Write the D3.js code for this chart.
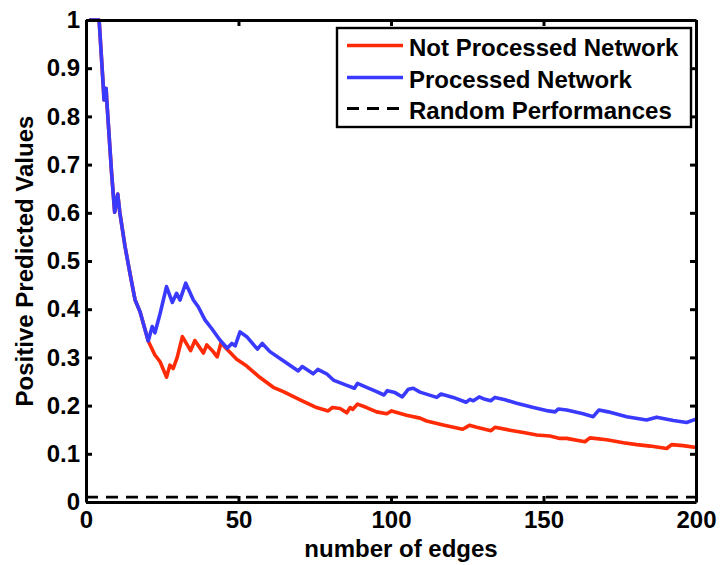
<!DOCTYPE html>
<html>
<head>
<meta charset="utf-8">
<script src="https://cdn.jsdelivr.net/npm/d3@7"></script>
<style>
  html, body { margin: 0; padding: 0; background: #ffffff; }
  svg { display: block; }
  text { font-family: "Liberation Sans", Arial, Helvetica, sans-serif; font-weight: bold; fill: #000; }
</style>
</head>
<body>
<svg id="chart" width="722" height="565"></svg>
<script>
// ---- Data ----
const seriesNames = ["Not Processed Network", "Processed Network", "Random Performances"];

// shared start of both curves (identical until ~20 edges)
const sharedEdges  = [1, 4.3, 5.7, 5.9, 6.6, 6.8, 8.4, 9.4, 10.4, 11.1, 12.8, 14.4, 16.1, 17.7, 20.4];
const sharedValues = [1.0, 1.0, 0.858, 0.834, 0.858, 0.834, 0.682, 0.601, 0.639, 0.600, 0.530, 0.475, 0.419, 0.395, 0.334];

const processedEdges = [21.7, 22.6, 24.3, 26.4, 28.3, 29.7, 30.8, 32.7, 35.2, 36.8, 39.0, 41.2, 43.9, 46.3, 47.8, 48.9,
  50.5, 52.7, 56.2, 57.8, 60.3, 64.2, 69.6, 70.9, 74.5, 76.0, 78.9, 81.1, 85.5, 88.0, 89.0, 92.0, 95.3, 97.7, 98.8,
  101.3, 103.7, 105.7, 107.3, 109.5, 115.0, 116.4, 120.4, 124.6, 125.9, 127.0, 128.9, 130.8, 132.7, 134.1, 137.4,
  141.2, 146.7, 151.6, 153.8, 154.9, 157.6, 163.0, 166.3, 168.2, 171.2, 177.3, 183.8, 187.1, 192.6, 196.9, 200];
const processedValues = [0.364, 0.351, 0.391, 0.447, 0.414, 0.433, 0.419, 0.454, 0.419, 0.405, 0.378, 0.360, 0.336, 0.319, 0.329, 0.324,
  0.353, 0.343, 0.317, 0.329, 0.312, 0.295, 0.272, 0.281, 0.266, 0.275, 0.266, 0.253, 0.242, 0.236, 0.246, 0.238, 0.229, 0.222, 0.231,
  0.227, 0.218, 0.234, 0.236, 0.228, 0.217, 0.224, 0.217, 0.207, 0.213, 0.210, 0.218, 0.213, 0.210, 0.217, 0.212,
  0.205, 0.196, 0.189, 0.187, 0.193, 0.191, 0.183, 0.177, 0.191, 0.187, 0.177, 0.170, 0.176, 0.169, 0.165, 0.172];

const notProcessedEdges = [22.6, 24.3, 26.4, 27.5, 28.6, 29.9, 31.6, 34.3, 35.7, 38.5, 39.6, 41.7, 43.0, 44.3, 45.6, 49.4,
  52.7, 56.5, 61.4, 64.7, 70.2, 75.6, 79.4, 80.8, 83.3, 85.5, 86.6, 87.4, 89.0, 92.0, 95.3, 98.6, 100.2, 105.1, 109.5,
  111.7, 117.1, 123.5, 125.7, 128.1, 132.8, 134.1, 139.0, 143.4, 147.8, 152.1, 155.4, 157.6, 163.6, 165.2, 170.7,
  176.2, 180.6, 185.0, 190.4, 192.0, 195.8, 200];
const notProcessedValues = [0.305, 0.291, 0.259, 0.284, 0.277, 0.300, 0.343, 0.314, 0.335, 0.309, 0.326, 0.312, 0.301, 0.331, 0.321, 0.296,
  0.282, 0.261, 0.238, 0.229, 0.212, 0.196, 0.189, 0.196, 0.194, 0.185, 0.196, 0.192, 0.203, 0.196, 0.187, 0.183, 0.189, 0.180, 0.174,
  0.168, 0.160, 0.151, 0.159, 0.155, 0.148, 0.155, 0.149, 0.144, 0.139, 0.137, 0.132, 0.132, 0.125, 0.133, 0.129,
  0.123, 0.119, 0.116, 0.111, 0.119, 0.117, 0.113];

const randomEdges  = [0, 200];
const randomValues = [0.01, 0.01];

const xTicks = [0, 50, 100, 150, 200];
const yTicks = [0, 0.1, 0.2, 0.3, 0.4, 0.5, 0.6, 0.7, 0.8, 0.9, 1];
const xTitle = "number of edges";
const yTitle = "Positive Predicted Values";

// ---- Layout ----
const margin = { left: 86, right: 26, top: 20, bottom: 63 };
const W = 722, H = 565;
const svg = d3.select("#chart");

const x = d3.scaleLinear().domain([0, 200]).range([margin.left, W - margin.right]);
const y = d3.scaleLinear().domain([0, 1]).range([H - margin.bottom, margin.top]);

const pts = (xs, ys) => xs.map((e, i) => [e, ys[i]]);
const redData  = pts(sharedEdges.concat(notProcessedEdges), sharedValues.concat(notProcessedValues));
const blueData = pts(sharedEdges.concat(processedEdges), sharedValues.concat(processedValues));
const randData = pts(randomEdges, randomValues);

const line = d3.line().x(d => x(d[0])).y(d => y(d[1]));

const colors = { red: "#ff2a06", blue: "#3a3aff" };
const curveWidth = 3.6;

// dashed random line
svg.append("path").datum(randData).attr("d", line)
  .attr("fill", "none").attr("stroke", "#000").attr("stroke-width", 2.8)
  .attr("stroke-dasharray", "12,8");

svg.append("path").datum(redData).attr("d", line)
  .attr("fill", "none").attr("stroke", colors.red).attr("stroke-width", curveWidth)
  .attr("stroke-linejoin", "round");
svg.append("path").datum(blueData).attr("d", line)
  .attr("fill", "none").attr("stroke", colors.blue).attr("stroke-width", curveWidth)
  .attr("stroke-linejoin", "round");

// ---- Axes ----
const tickLen = 6;
const axisStroke = 3;
const fontSize = 24;

function styleAxis(g) {
  g.select(".domain").attr("stroke", "#000").attr("stroke-width", axisStroke);
  g.selectAll(".tick line").attr("stroke", "#000").attr("stroke-width", axisStroke);
  g.selectAll("text").style("font-size", fontSize + "px").style("font-weight", "bold")
    .style("font-family", '"Liberation Sans", Arial, sans-serif').attr("fill", "#000");
}

const xBottom = svg.append("g").attr("transform", `translate(0,${y(0)})`)
  .call(d3.axisBottom(x).tickValues(xTicks).tickSizeInner(-tickLen).tickSizeOuter(0).tickPadding(9).tickFormat(d3.format("d")));
styleAxis(xBottom);
xBottom.selectAll("text").attr("dy", "0.71em");

const xTop = svg.append("g").attr("transform", `translate(0,${y(1)})`)
  .call(d3.axisTop(x).tickValues(xTicks).tickSizeInner(-tickLen).tickSizeOuter(0).tickFormat(""));
styleAxis(xTop);

const yLeft = svg.append("g").attr("transform", `translate(${x(0)},0)`)
  .call(d3.axisLeft(y).tickValues(yTicks).tickSizeInner(-tickLen).tickSizeOuter(0).tickPadding(6)
    .tickFormat(d => d === 0 || d === 1 ? String(d) : d3.format(".1f")(d)));
styleAxis(yLeft);

const yRight = svg.append("g").attr("transform", `translate(${x(200)},0)`)
  .call(d3.axisRight(y).tickValues(yTicks).tickSizeInner(-tickLen).tickSizeOuter(0).tickFormat(""));
styleAxis(yRight);

// axis titles
svg.append("text").attr("x", 401).attr("y", 557).attr("text-anchor", "middle")
  .style("font-size", fontSize + "px").text(xTitle);
svg.append("text").attr("transform", `translate(33,${(y(0) + y(1)) / 2})rotate(-90)`)
  .attr("text-anchor", "middle").style("font-size", fontSize + "px").text(yTitle);

// ---- Legend ----
const lg = svg.append("g");
lg.append("rect").attr("x", 337).attr("y", 28).attr("width", 354).attr("height", 99)
  .attr("fill", "#fff").attr("stroke", "#000").attr("stroke-width", 2.4);
const legendItems = [
  { name: seriesNames[0], color: colors.red, dash: null },
  { name: seriesNames[1], color: colors.blue, dash: null },
  { name: seriesNames[2], color: "#000", dash: "12,8" }
];
const rowBase = [56, 88, 119];
legendItems.forEach((it, i) => {
  const b = rowBase[i];
  lg.append("line").attr("x1", 347).attr("x2", 403).attr("y1", b - 10.5).attr("y2", b - 10.5)
    .attr("stroke", it.color).attr("stroke-width", it.dash ? 2.8 : curveWidth)
    .attr("stroke-dasharray", it.dash);
  lg.append("text").attr("x", 409).attr("y", b).style("font-size", fontSize + "px").text(it.name);
});
</script>
</body>
</html>
